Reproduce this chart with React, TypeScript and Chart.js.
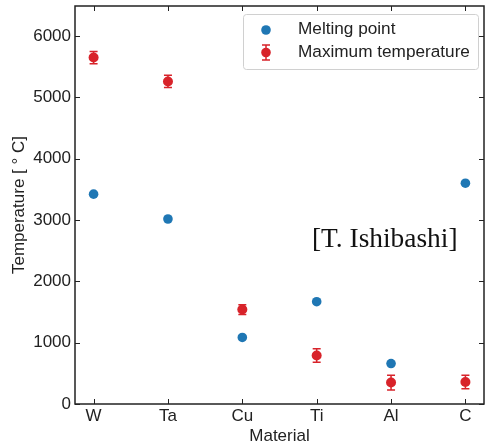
import React, { useEffect, useRef } from "react";
import { Chart, registerables } from "chart.js";

Chart.register(...registerables);

const materials = ["W", "Ta", "Cu", "Ti", "Al", "C"];
const meltingPoint = [3422, 3017, 1085, 1668, 660, 3600];
const maxTemperature = [5650, 5260, 1540, 790, 350, 360];
const maxTemperatureErr = [100, 100, 80, 110, 120, 110];
const yTicks = [0, 1000, 2000, 3000, 4000, 5000, 6000];

const BLUE = "#1f77b4";
const RED = "#d8232a";
const FONT = "'Liberation Sans', Arial, sans-serif";

const errorBarPlugin = {
  id: "errorBars",
  afterDatasetsDraw(chart: any) {
    const ctx = chart.ctx;
    const x = chart.scales.x;
    const y = chart.scales.y;
    ctx.save();
    ctx.strokeStyle = RED;
    ctx.lineWidth = 1.5;
    maxTemperature.forEach((v, i) => {
      const px = x.getPixelForValue(i);
      const top = y.getPixelForValue(v + maxTemperatureErr[i]);
      const bot = y.getPixelForValue(v - maxTemperatureErr[i]);
      ctx.beginPath();
      ctx.moveTo(px, top);
      ctx.lineTo(px, bot);
      ctx.moveTo(px - 4, top);
      ctx.lineTo(px + 4, top);
      ctx.moveTo(px - 4, bot);
      ctx.lineTo(px + 4, bot);
      ctx.stroke();
    });
    ctx.restore();
  },
};

const framePlugin = {
  id: "frame",
  afterDraw(chart: any) {
    const ctx = chart.ctx;
    const a = chart.chartArea;
    const x = chart.scales.x;
    const y = chart.scales.y;
    ctx.save();
    ctx.strokeStyle = "#222";
    ctx.lineWidth = 1.5;
    ctx.strokeRect(a.left, a.top, a.right - a.left, a.bottom - a.top);
    ctx.lineWidth = 1;
    ctx.beginPath();
    materials.forEach((_, i) => {
      const px = Math.round(x.getPixelForValue(i)) + 0.5;
      ctx.moveTo(px, a.bottom);
      ctx.lineTo(px, a.bottom - 5);
      ctx.moveTo(px, a.top);
      ctx.lineTo(px, a.top + 5);
    });
    yTicks.forEach((t) => {
      const py = Math.round(y.getPixelForValue(t)) + 0.5;
      ctx.moveTo(a.left, py);
      ctx.lineTo(a.left + 5, py);
      ctx.moveTo(a.right, py);
      ctx.lineTo(a.right - 5, py);
    });
    ctx.stroke();

    // legend
    const lx = 243, ly = 14, lw = 235, lh = 55;
    ctx.fillStyle = "rgba(255,255,255,0.85)";
    ctx.strokeStyle = "#d0d0d0";
    ctx.lineWidth = 1;
    ctx.beginPath();
    (ctx as any).roundRect(lx + 0.5, ly + 0.5, lw, lh, 3);
    ctx.fill();
    ctx.stroke();

    ctx.fillStyle = BLUE;
    ctx.beginPath();
    ctx.arc(266, 30, 4.8, 0, Math.PI * 2);
    ctx.fill();

    ctx.strokeStyle = RED;
    ctx.lineWidth = 1.5;
    ctx.beginPath();
    ctx.moveTo(266, 45);
    ctx.lineTo(266, 60);
    ctx.moveTo(262, 45);
    ctx.lineTo(270, 45);
    ctx.moveTo(262, 60);
    ctx.lineTo(270, 60);
    ctx.stroke();
    ctx.fillStyle = RED;
    ctx.beginPath();
    ctx.arc(266, 52.5, 4.8, 0, Math.PI * 2);
    ctx.fill();

    ctx.fillStyle = "#222";
    ctx.font = `17.2px ${FONT}`;
    ctx.textBaseline = "middle";
    ctx.textAlign = "left";
    ctx.fillText("Melting point", 298, 29);
    ctx.fillText("Maximum temperature", 298, 52);
    ctx.restore();
  },
};

export default function App() {
  const ref = useRef<HTMLCanvasElement>(null);
  useEffect(() => {
    if (!ref.current) return;
    const chart = new Chart(ref.current, {
      type: "scatter",
      data: {
        datasets: [
          {
            label: "Melting point",
            data: meltingPoint.map((v, i) => ({ x: i, y: v })),
            backgroundColor: BLUE,
            borderColor: BLUE,
            pointRadius: 4.8,
            borderWidth: 0,
          },
          {
            label: "Maximum temperature",
            data: maxTemperature.map((v, i) => ({ x: i, y: v })),
            backgroundColor: RED,
            borderColor: RED,
            pointRadius: 5,
            borderWidth: 0,
          },
        ],
      },
      options: {
        animation: false,
        responsive: false,
        layout: { autoPadding: false, padding: { top: 6, right: 2, left: 0, bottom: 0 } },
        plugins: { legend: { display: false }, tooltip: { enabled: false } },
        scales: {
          x: {
            type: "linear",
            min: -0.25,
            max: 5.25,
            afterBuildTicks: (s: any) => {
              s.ticks = materials.map((_, i) => ({ value: i }));
            },
            afterFit: (s: any) => {
              s.height = 41;
              s.paddingLeft = 0;
              s.paddingRight = 0;
            },
            ticks: {
              callback: (v: any) => materials[v] ?? "",
              color: "#222",
              font: { family: FONT, size: 17 },
              padding: 2,
              maxRotation: 0,
            },
            grid: { display: false, drawTicks: false },
            border: { display: false },
            title: {
              display: true,
              text: "Material",
              color: "#222",
              font: { family: FONT, size: 17, lineHeight: 1.05 },
              padding: { top: 2, bottom: 0 },
            },
          },
          y: {
            type: "linear",
            min: 0,
            max: 6490,
            afterBuildTicks: (s: any) => {
              s.ticks = yTicks.map((v) => ({ value: v }));
            },
            afterFit: (s: any) => {
              s.width = 75;
              s.paddingTop = 0;
              s.paddingBottom = 0;
            },
            ticks: {
              callback: (v: any) => String(v),
              color: "#222",
              font: { family: FONT, size: 17 },
              padding: 4,
            },
            grid: { display: false, drawTicks: false },
            border: { display: false },
            title: {
              display: true,
              text: "Temperature [ ° C]",
              color: "#222",
              font: { family: FONT, size: 17 },
              padding: { top: 9, bottom: 2 },
            },
          },
        },
      },
      plugins: [errorBarPlugin, framePlugin],
    } as any);
    return () => chart.destroy();
  }, []);

  return (
    <div style={{ position: "absolute", left: 0, top: 0, width: 486, height: 445, background: "#fff" }}>
      <canvas ref={ref} width={486} height={445} style={{ display: "block" }} />
      <div
        style={{
          position: "absolute",
          left: 312,
          top: 223,
          fontFamily: "'Liberation Serif', 'Times New Roman', serif",
          fontSize: 27.4,
          color: "#111",
          whiteSpace: "nowrap",
        }}
      >
        [T. Ishibashi]
      </div>
    </div>
  );
}
